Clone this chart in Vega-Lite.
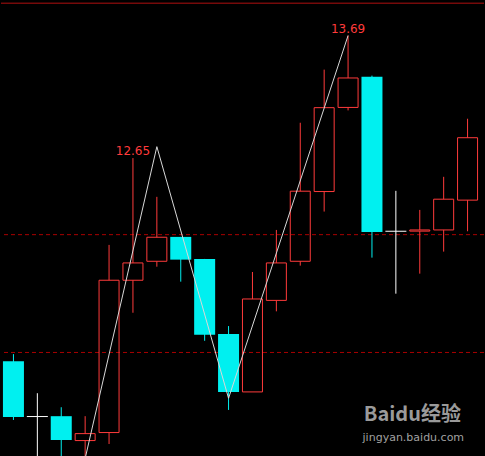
{
  "$schema": "https://vega.github.io/schema/vega-lite/v6.json",
  "width": 485,
  "height": 456,
  "autosize": {"type": "fit", "contains": "padding"},
  "padding": 0,
  "background": "#000000",
  "config": {"view": {"stroke": null}},
  "datasets": {
    "candles": [
      {"i": 1, "o": 10.926, "h": 10.986, "l": 10.427, "c": 10.453, "d": "down"},
      {"i": 2, "o": 10.456, "h": 10.654, "l": 10.0, "c": 10.456, "d": "doji"},
      {"i": 3, "o": 10.459, "h": 10.535, "l": 10.02, "c": 10.257, "d": "down"},
      {"i": 4, "o": 10.252, "h": 10.459, "l": 10.1, "c": 10.311, "d": "up"},
      {"i": 5, "o": 10.32, "h": 11.913, "l": 10.223, "c": 11.613, "d": "up"},
      {"i": 6, "o": 11.613, "h": 12.65, "l": 11.337, "c": 11.76, "d": "up"},
      {"i": 7, "o": 11.774, "h": 12.321, "l": 11.728, "c": 11.978, "d": "up"},
      {"i": 8, "o": 11.981, "h": 11.981, "l": 11.601, "c": 11.788, "d": "down"},
      {"i": 9, "o": 11.794, "h": 11.794, "l": 11.099, "c": 11.15, "d": "down"},
      {"i": 10, "o": 11.156, "h": 11.224, "l": 10.512, "c": 10.665, "d": "down"},
      {"i": 11, "o": 10.665, "h": 11.683, "l": 10.665, "c": 11.454, "d": "up"},
      {"i": 12, "o": 11.442, "h": 12.04, "l": 11.349, "c": 11.76, "d": "up"},
      {"i": 13, "o": 11.774, "h": 12.95, "l": 11.737, "c": 12.369, "d": "up"},
      {"i": 14, "o": 12.366, "h": 13.401, "l": 12.196, "c": 13.078, "d": "up"},
      {"i": 15, "o": 13.08, "h": 13.69, "l": 13.055, "c": 13.33, "d": "up"},
      {"i": 16, "o": 13.341, "h": 13.35, "l": 11.805, "c": 12.023, "d": "down"},
      {"i": 17, "o": 12.029, "h": 12.372, "l": 11.499, "c": 12.029, "d": "doji"},
      {"i": 18, "o": 12.03, "h": 12.21, "l": 11.669, "c": 12.04, "d": "up"},
      {"i": 19, "o": 12.04, "h": 12.491, "l": 11.856, "c": 12.301, "d": "up"},
      {"i": 20, "o": 12.293, "h": 12.984, "l": 12.029, "c": 12.823, "d": "up"}
    ],
    "zigzag": [
      {"i": 4, "p": 10.1},
      {"i": 7, "p": 12.747},
      {"i": 10, "p": 10.611},
      {"i": 15, "p": 13.69}
    ],
    "levels": [{"p": 11.0}, {"p": 12.0}],
    "topline": [{"p": 13.965}],
    "labels": [
      {"i": 6, "p": 12.65, "t": "12.65"},
      {"i": 15, "p": 13.69, "t": "13.69"}
    ],
    "mark1": [{"i": 17.69, "p": 10.467, "t": "Baidu经验"}],
    "mark2": [{"i": 17.73, "p": 10.271, "t": "jingyan.baidu.com"}]
  },
  "encoding": {
    "x": {"field": "i", "type": "quantitative", "scale": {"domain": [0.4792, 20.6875], "nice": false, "zero": false, "padding": 0}, "axis": null}
  },
  "layer": [
    {
      "data": {"name": "levels"},
      "mark": {"type": "rule", "color": "#a80000", "strokeWidth": 1, "strokeDash": [4, 3]},
      "encoding": {
        "x": null,
        "y": {"field": "p", "type": "quantitative", "scale": {"domain": [10.121, 13.992], "nice": false, "zero": false, "padding": 0}, "axis": null}
      }
    },
    {
      "data": {"name": "topline"},
      "mark": {"type": "rule", "color": "#b01010", "strokeWidth": 1},
      "encoding": {
        "x": null,
        "y": {"field": "p", "type": "quantitative"}
      }
    },
    {
      "data": {"name": "candles"},
      "transform": [{"filter": "datum.d === 'up'"}],
      "mark": {"type": "rule", "color": "#ff3b3b", "strokeWidth": 1, "clip": true},
      "encoding": {
        "y": {"field": "h", "type": "quantitative"},
        "y2": {"field": "c"}
      }
    },
    {
      "data": {"name": "candles"},
      "transform": [{"filter": "datum.d === 'up'"}],
      "mark": {"type": "rule", "color": "#ff3b3b", "strokeWidth": 1, "clip": true},
      "encoding": {
        "y": {"field": "o", "type": "quantitative"},
        "y2": {"field": "l"}
      }
    },
    {
      "data": {"name": "candles"},
      "transform": [{"filter": "datum.d === 'down'"}],
      "mark": {"type": "rule", "color": "#00f0f0", "strokeWidth": 1, "clip": true},
      "encoding": {
        "y": {"field": "h", "type": "quantitative"},
        "y2": {"field": "l"}
      }
    },
    {
      "data": {"name": "candles"},
      "transform": [{"filter": "datum.d === 'doji'"}],
      "mark": {"type": "rule", "color": "#ffffff", "strokeWidth": 1, "clip": true},
      "encoding": {
        "y": {"field": "h", "type": "quantitative"},
        "y2": {"field": "l"}
      }
    },
    {
      "data": {"name": "candles"},
      "transform": [{"filter": "datum.d === 'up'"}],
      "mark": {"type": "bar", "size": 20, "fill": "#000000", "fillOpacity": 0, "stroke": "#ff3b3b", "strokeWidth": 1, "clip": true},
      "encoding": {
        "y": {"field": "o", "type": "quantitative"},
        "y2": {"field": "c"}
      }
    },
    {
      "data": {"name": "candles"},
      "transform": [{"filter": "datum.d === 'down'"}],
      "mark": {"type": "bar", "size": 21, "fill": "#00f0f0", "clip": true},
      "encoding": {
        "y": {"field": "o", "type": "quantitative"},
        "y2": {"field": "c"}
      }
    },
    {
      "data": {"name": "candles"},
      "transform": [{"filter": "datum.d === 'doji'"}],
      "mark": {"type": "tick", "orient": "horizontal", "size": 21, "thickness": 1, "color": "#ffffff", "opacity": 1, "clip": true},
      "encoding": {
        "y": {"field": "o", "type": "quantitative"}
      }
    },
    {
      "data": {"name": "zigzag"},
      "mark": {"type": "line", "color": "#d8d8d8", "strokeWidth": 1, "clip": true},
      "encoding": {
        "y": {"field": "p", "type": "quantitative"}
      }
    },
    {
      "data": {"name": "labels"},
      "mark": {"type": "text", "color": "#ff3b3b", "font": "DejaVu Sans", "fontSize": 12, "baseline": "alphabetic", "align": "center", "dy": -3},
      "encoding": {
        "y": {"field": "p", "type": "quantitative"},
        "text": {"field": "t"}
      }
    },
    {
      "data": {"name": "mark1"},
      "mark": {"type": "text", "color": "#9a9a9a", "font": "Noto Sans CJK SC", "fontSize": 20, "fontWeight": "bold", "baseline": "middle", "align": "center"},
      "encoding": {
        "y": {"field": "p", "type": "quantitative"},
        "text": {"field": "t"}
      }
    },
    {
      "data": {"name": "mark2"},
      "mark": {"type": "text", "color": "#a0a0a0", "font": "DejaVu Sans", "fontSize": 11, "baseline": "middle", "align": "center"},
      "encoding": {
        "y": {"field": "p", "type": "quantitative"},
        "text": {"field": "t"}
      }
    }
  ]
}
